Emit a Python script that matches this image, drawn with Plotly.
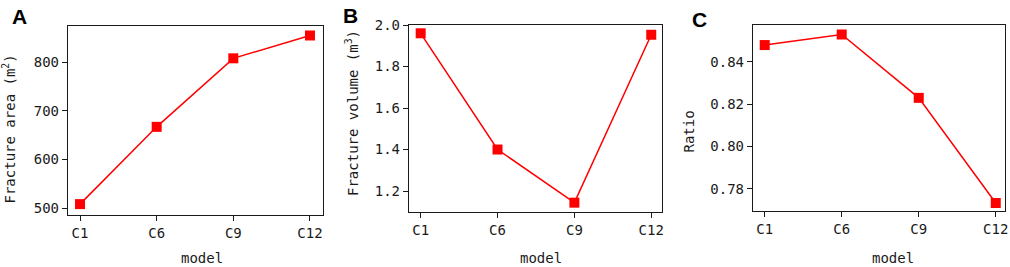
import plotly.graph_objects as go

models = ["C1", "C6", "C9", "C12"]
fracture_area = [508, 667, 808, 855]
fracture_volume = [1.96, 1.40, 1.144, 1.953]
ratio = [0.848, 0.853, 0.823, 0.7732]
panel_labels = ["A", "B", "C"]
y_titles = ["Fracture area (m<sup>2</sup>)", "Fracture volume (m<sup>3</sup>)", "Ratio"]
x_title = "model"

W, H = 1010, 267
FONT = "DejaVu Sans Mono"
RED = "#ff0000"
INK = "#1a1a1a"


def px(x):
    return x / W


def py(y):
    return 1 - y / H


# pixel boxes (left, right, top, bottom)
boxes = [(68, 323, 26, 215), (409, 662, 25, 212), (753, 1005, 25, 211)]
yranges = [[485.6, 874.5], [1.099, 2.0], [0.7694, 0.8575]]
xranges = [[-0.157, 3.17], [-0.152, 3.14], [-0.152, 3.12]]
ytickvals = [[500, 600, 700, 800], [1.2, 1.4, 1.6, 1.8, 2.0], [0.78, 0.80, 0.82, 0.84]]
yticktext = [["500", "600", "700", "800"], ["1.2", "1.4", "1.6", "1.8", "2.0"],
             ["0.78", "0.80", "0.82", "0.84"]]
letter_pos = [(10, 3), (341, 2), (690, 6)]
ytitle_pos = [(9, 129.5), (352, 113), (688, 131.5)]
xtitle_pos = [(202, 258), (541, 258), (893, 258)]

fig = go.Figure()
series = [fracture_area, fracture_volume, ratio]
for i, ys in enumerate(series):
    sfx = "" if i == 0 else str(i + 1)
    fig.add_trace(go.Scatter(
        x=[0, 1, 2, 3], y=ys, mode="lines+markers",
        line=dict(color=RED, width=1.5),
        marker=dict(symbol="square", size=10, color=RED),
        xaxis="x" + sfx, yaxis="y" + sfx, showlegend=False,
        cliponaxis=False,
    ))

annotations = []
layout = dict(
    width=W, height=H, margin=dict(l=0, r=0, t=0, b=0, autoexpand=False),
    paper_bgcolor="white", plot_bgcolor="white",
    font=dict(family=FONT, size=14, color=INK),
)
for i in range(3):
    sfx = "" if i == 0 else str(i + 1)
    l, r, t, b = boxes[i]
    common = dict(showline=True, linecolor=INK, linewidth=1.3, mirror=True,
                  ticks="outside", ticklen=5, tickcolor=INK, showgrid=False,
                  zeroline=False, automargin=False,
                  tickfont=dict(family=FONT, size=14, color=INK))
    layout["xaxis" + sfx] = dict(
        domain=[px(l), px(r)], anchor="y" + sfx, range=xranges[i],
        tickvals=[0, 1, 2, 3], ticktext=models, **common)
    layout["yaxis" + sfx] = dict(
        domain=[py(b), py(t)], anchor="x" + sfx, range=yranges[i],
        tickvals=ytickvals[i], ticktext=yticktext[i], **common)
    lx, ly = letter_pos[i]
    annotations.append(dict(
        text="<b>%s</b>" % panel_labels[i], x=px(lx), y=py(ly),
        xref="paper", yref="paper", xanchor="left", yanchor="top", showarrow=False,
        font=dict(family="Liberation Sans", size=21, color="black")))
    tx, ty = ytitle_pos[i]
    annotations.append(dict(
        text=y_titles[i], x=px(tx), y=py(ty), textangle=-90,
        xref="paper", yref="paper", xanchor="center", yanchor="middle", showarrow=False,
        font=dict(family=FONT, size=14, color=INK)))
    mx, my = xtitle_pos[i]
    annotations.append(dict(
        text=x_title, x=px(mx), y=py(my),
        xref="paper", yref="paper", xanchor="center", yanchor="middle", showarrow=False,
        font=dict(family=FONT, size=14, color=INK)))

layout["annotations"] = annotations
fig.update_layout(**layout)
# remove the browser's default 8px page margin so the figure fills the window
fig.write_html("out.html",
               config={"displayModeBar": False},
               post_script="document.body.style.margin='0';"
                           "document.body.style.overflow='hidden';")
